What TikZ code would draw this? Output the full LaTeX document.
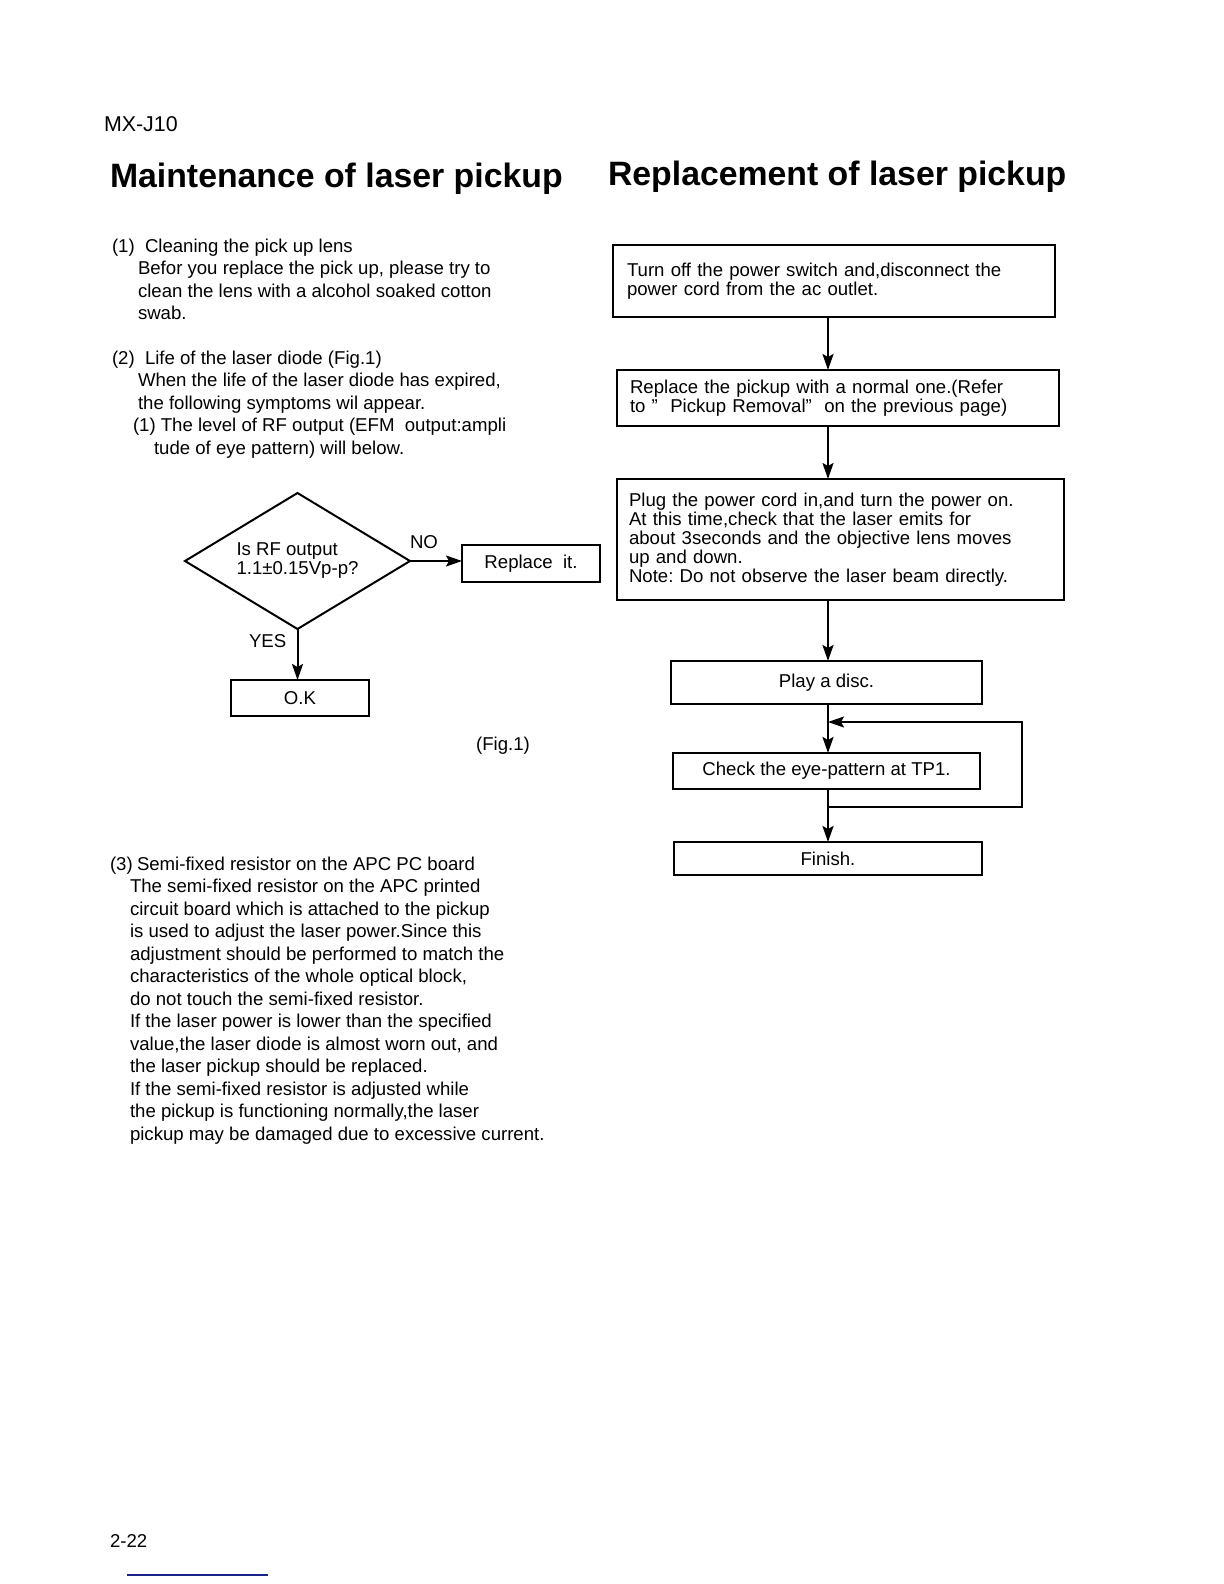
\documentclass[tikz,border=0pt]{standalone}
\usepackage{fontspec}
\setmainfont{Liberation Sans}
\usetikzlibrary{shapes.geometric,arrows.meta}
\definecolor{rulenavy}{RGB}{25,35,140}
\frenchspacing

\begin{document}
\begin{tikzpicture}[x=0.5pt, y=-0.5pt,
        every node/.style={inner sep=0pt, outer sep=0pt},
        txt/.style={anchor=base west, align=left, font=\fontsize{9.3}{11.25}\selectfont},
        box/.style={draw, line width=1.1pt, inner xsep=7.5pt, inner ysep=0pt, align=left, font=\fontsize{9.3}{9.5}\selectfont},
        >={Stealth[length=8pt, width=5.5pt, inset=1.5pt]},
        flow/.style={->, line width=1pt}]
    \useasboundingbox (0,0) rectangle (1224,1584);

    % page head
    \node[txt, font=\fontsize{10.7}{12}\selectfont] (model) at (104,132) {MX-J10};
    \node[txt, font=\fontsize{16.9}{20}\selectfont\bfseries] (maint) at (110,187) {Maintenance of laser pickup};
    \node[txt, font=\fontsize{16.9}{20}\selectfont\bfseries] (repl) at (608,185) {Replacement of laser pickup};

    % left column (nodes sit on the baseline of their last line)
    \node[txt] (n1) at (112,252) {(1)};
    \node[txt] (clean) at (138,319.5) {\hspace*{3.5pt}Cleaning the pick up lens\\Befor you replace the pick up, please try to\\clean the lens with a alcohol soaked cotton\\swab.};
    \node[txt] (n2) at (112,364) {(2)};
    \node[txt] (life) at (138,409) {\hspace*{3.5pt}Life of the laser diode (Fig.1)\\When the life of the laser diode has expired,\\the following symptoms wil appear.};
    \node[txt] (sympt) at (133,454) {(1) The level of RF output (EFM~ output:ampli\\\hspace*{10.5pt}tude of eye pattern) will below.};

    \node[draw, diamond, aspect=1.65, line width=1pt, minimum width=112.5pt, minimum height=68pt, align=left, font=\fontsize{9.3}{9.5}\selectfont] (rf) at (297.5,561) {Is RF output\\1.1±0.15Vp-p?};
    \node[box, align=center, minimum width=69pt, minimum height=18.5pt] (rep) at (531,563.5) {Replace\ \ it.};
    \node[box, align=center, minimum width=69pt, minimum height=18pt] (ok) at (300,698) {O.K};
    \node[txt] (no) at (410,548) {NO};
    \node[txt] (yes) at (249,647) {YES};
    \draw[flow] (rf.east) -- (rf.east -| rep.west);
    \draw[flow] (rf.south) -- (rf.south |- ok.north);
    \node[font=\fontsize{9.3}{11.25}\selectfont] (fig) at (503,746) {(Fig.1)};

    \node[txt] (n3) at (110,870) {(3)};
    \node[txt] (apc) at (130,1140) {\hspace*{3.5pt}Semi-fixed resistor on the APC PC board\\The semi-fixed resistor on the APC printed\\circuit board which is attached to the pickup\\is used to adjust the laser power.Since this\\adjustment should be performed to match the\\characteristics of the whole optical block,\\do not touch the semi-fixed resistor.\\If the laser power is lower than the specified\\value,the laser diode is almost worn out, and\\the laser pickup should be replaced.\\If the semi-fixed resistor is adjusted while\\the pickup is functioning normally,the laser\\pickup may be damaged due to excessive current.};

    % right column
    \coordinate (trunk) at (828,0);
    \node[box, inner xsep=7pt, text width=207pt, minimum height=36pt] (off) at (834,281) {Turn off the power switch and,disconnect the\\power cord from the ac outlet.};
    \node[box, inner xsep=6.5pt, text width=208pt, minimum height=28pt] (swap) at (838,398) {Replace the pickup with a normal one.(Refer\\to~” ~Pickup Removal” ~on the previous page)};
    \node[box, inner xsep=6pt, text width=211.5pt, minimum height=60.5pt] (plug) at (840.5,539.5) {Plug the power cord in,and turn the power on.\\At this time,check that the laser emits for\\about 3seconds and the objective lens moves\\up and down.\\Note: Do not observe the laser beam directly.};
    \node[box, align=center, minimum width=155.5pt, minimum height=21.5pt] (play) at (826.5,682.5) {Play a disc.};
    \node[box, align=center, minimum width=153.5pt, minimum height=18pt] (check) at (826.5,771) {Check the eye-pattern at TP1.};
    \node[box, align=center, minimum width=154pt, minimum height=16.5pt] (fin) at (828,858.5) {Finish.};

    \draw[flow] (off.south -| trunk) -- (swap.north -| trunk);
    \draw[flow] (swap.south -| trunk) -- (plug.north -| trunk);
    \draw[flow] (plug.south -| trunk) -- (play.north -| trunk);
    \draw[flow] (play.south -| trunk) -- (check.north -| trunk);
    \draw[flow] (check.south -| trunk) -- (fin.north -| trunk);
    \coordinate (split) at (828,807);
    \coordinate (loopx) at (1022,722);
    \coordinate (rejoin) at (828,722);
    \draw[flow] (split) -- (split -| loopx) -- (loopx) -- (rejoin);

    % page foot
    \node[txt] (page) at (110,1547) {2-22};
    \draw[rulenavy, line width=0.7pt] (127,1575) -- (268,1575);
\end{tikzpicture}
\end{document}
